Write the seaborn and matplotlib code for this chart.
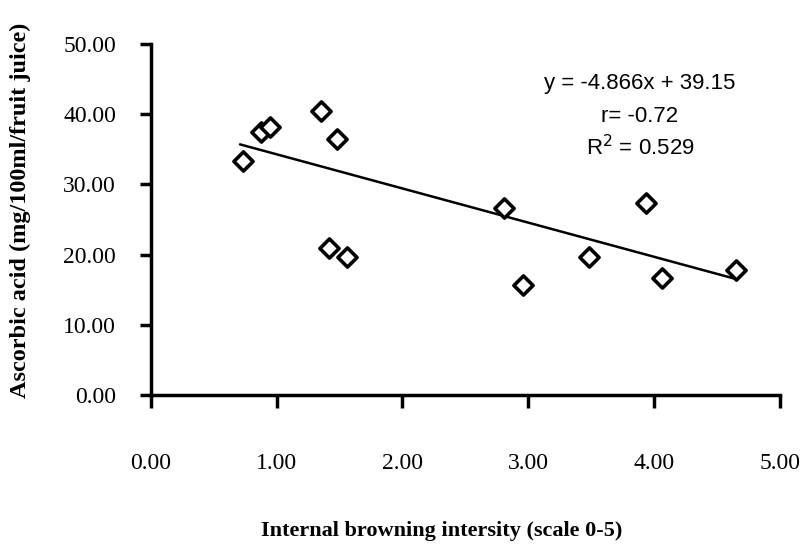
import matplotlib
matplotlib.use("Agg")
import matplotlib.pyplot as plt
import seaborn as sns
import pandas as pd
import numpy as np

# Data
browning = [0.73, 0.88, 0.95, 1.35, 1.48, 1.42, 1.56, 2.81, 2.96, 3.48, 3.94, 4.06, 4.65]
ascorbic = [33.3, 37.5, 38.2, 40.5, 36.4, 20.9, 19.7, 26.7, 15.7, 19.6, 27.3, 16.6, 17.8]
slope = -4.866
intercept = 39.15
x_ticks = [0, 1, 2, 3, 4, 5]
y_ticks = [0, 10, 20, 30, 40, 50]
eq_lines = ["y = -4.866x + 39.15", "r= -0.72", "R$^2$ = 0.529"]

df = pd.DataFrame({"x": browning, "y": ascorbic})

sns.set_theme(style="white")
plt.rcParams["font.family"] = ["Liberation Serif", "DejaVu Serif"]

fig = plt.figure(figsize=(8.04, 5.49), dpi=100)
ax = fig.add_axes([0.1874, 0.2805, 0.970 - 0.1874, 0.92 - 0.2805])

# trend line
xl = np.array([0.71, max(browning)])
line_df = pd.DataFrame({"x": xl, "y": slope * xl + intercept})
sns.lineplot(data=line_df, x="x", y="y", ax=ax, color="black", linewidth=1.8)

sns.scatterplot(data=df, x="x", y="y", ax=ax, marker="D", s=95,
                facecolor="white", edgecolor="black", linewidth=2.6, zorder=3)

ax.set_xlim(0, 5)
ax.set_ylim(0, 50)
ax.set_xticks(x_ticks)
ax.set_yticks(y_ticks)
ax.set_xticklabels([f"{v:.2f}" for v in x_ticks])
ax.set_yticklabels([f"{v:.2f}" for v in y_ticks])

for s in ["top", "right"]:
    ax.spines[s].set_visible(False)
for s in ["left", "bottom"]:
    ax.spines[s].set_color("black")
    ax.spines[s].set_linewidth(2.5)

ax.tick_params(axis="x", direction="out", length=9, width=2.5, color="black",
               pad=33, labelsize=17, labelcolor="black", bottom=True)
ax.tick_params(axis="y", direction="out", length=8, width=2.5, color="black",
               pad=17, labelsize=17, labelcolor="black", left=True)

ax.set_xlabel("Internal browning intersity (scale 0-5)", fontsize=16,
              fontweight="bold", color="black")
ax.set_ylabel("Ascorbic acid (mg/100ml/fruit juice)", fontsize=17.5,
              fontweight="bold", color="black")
ax.xaxis.set_label_coords((442 - 150.7) / (780 - 150.7), -(521 - 395) / (395 - 44))
ax.yaxis.set_label_coords(-(150.7 - 31) / (780 - 150.7), (395 - 210) / (395 - 44))

ys = [84, 117, 148]
for txt, py in zip(eq_lines, ys):
    fig.text(640 / 804, 1 - py / 549, txt, ha="center", va="center",
             fontsize=16, family=["Liberation Sans", "DejaVu Sans"], color="black")

ax.grid(False)
fig.savefig("out.png", dpi=100)
